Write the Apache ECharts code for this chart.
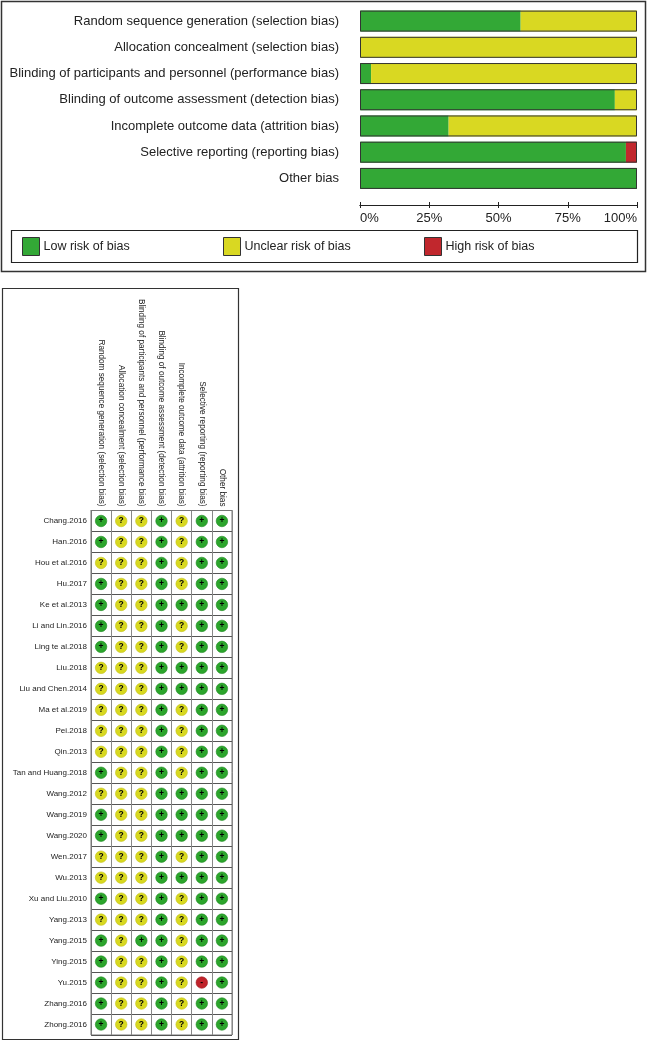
<!DOCTYPE html>
<html>
<head>
<meta charset="utf-8">
<script src="https://cdn.jsdelivr.net/npm/echarts/dist/echarts.min.js"></script>
<style>
  html, body { margin: 0; padding: 0; background: #fff; }
  #chart { width: 648px; height: 1043px; }
</style>
</head>
<body>
<div id="chart"></div>
<script>
// risk of bias domains
var domains = [
  'Random sequence generation (selection bias)',
  'Allocation concealment (selection bias)',
  'Blinding of participants and personnel (performance bias)',
  'Blinding of outcome assessment (detection bias)',
  'Incomplete outcome data (attrition bias)',
  'Selective reporting (reporting bias)',
  'Other bias'
];
// percentages for the graph
var lowPct = [58, 0, 4, 92, 32, 96, 100];
var unclearPct = [42, 100, 96, 8, 68, 0, 0];
var highPct = [0, 0, 0, 0, 0, 4, 0];

var studies = [
  'Chang.2016', 'Han.2016', 'Hou et al.2016', 'Hu.2017', 'Ke et al.2013',
  'Li and Lin.2016', 'Ling te al.2018', 'Liu.2018', 'Liu and Chen.2014',
  'Ma et al.2019', 'Pei.2018', 'Qin.2013', 'Tan and Huang.2018', 'Wang.2012',
  'Wang.2019', 'Wang.2020', 'Wen.2017', 'Wu.2013', 'Xu and Liu.2010',
  'Yang.2013', 'Yang.2015', 'Ying.2015', 'Yu.2015', 'Zhang.2016', 'Zhong.2016'
];
// one string per study, one char per domain: + low, ? unclear, - high
var judgements = [
  '+??+?++', '+??+?++', '???+?++', '+??+?++', '+??++++',
  '+??+?++', '+??+?++', '???++++', '???++++',
  '???+?++', '???+?++', '???+?++', '+??+?++', '???++++',
  '+??++++', '+??++++', '???+?++', '???++++', '+??+?++',
  '???+?++', '+?++?++', '+??+?++', '+??+?-+', '+??+?++', '+??+?++'
];

var GREEN = '#33a836', YELLOW = '#d9d822', RED = '#c1272d';
var FONT = 'Liberation Sans, Arial, sans-serif';

var dotColor = { '+': '#2ca52c', '?': '#d8d820', '-': '#c0232b' };
var dotEdge = { '+': '#1c8a20', '?': '#c2c21a', '-': '#9c1a20' };

var dots = [];
judgements.forEach(function (row, i) {
  for (var j = 0; j < row.length; j++) {
    var c = row.charAt(j);
    dots.push({
      value: [j, i, c],
      itemStyle: { color: dotColor[c], borderColor: dotEdge[c], borderWidth: 0.6, opacity: 1 }
    });
  }
});

var chart = echarts.init(document.getElementById('chart'));

var option = {
  backgroundColor: '#fff',
  animation: false,
  textStyle: { fontFamily: FONT },
  graphic: [
    { type: 'rect', shape: { x: 1.5, y: 1.5, width: 644, height: 270 },
      style: { fill: 'none', stroke: '#333', lineWidth: 1.5 }, z: 10 },
    { type: 'rect', shape: { x: 11.5, y: 230.5, width: 626, height: 32 },
      style: { fill: 'none', stroke: '#222', lineWidth: 1.2 }, z: 10 },
    { type: 'rect', shape: { x: 2.5, y: 288.5, width: 236, height: 751 },
      style: { fill: 'none', stroke: '#333', lineWidth: 1.2 }, z: 10 }
  ],
  legend: [
    { data: ['Low risk of bias'], left: 22, top: 237 },
    { data: ['Unclear risk of bias'], left: 223, top: 237 },
    { data: ['High risk of bias'], left: 424, top: 237 }
  ].map(function (l) {
    l.itemWidth = 17;
    l.itemHeight = 18;
    l.padding = 0;
    l.selectedMode = false;
    l.icon = 'rect';
    l.itemStyle = { borderColor: '#333', borderWidth: 1 };
    l.textStyle = { fontSize: 12.5, color: '#222', fontFamily: FONT, padding: [0, 0, 0, -1] };
    return l;
  }),
  grid: [
    { left: 360, right: 11, top: 8, height: 183.5 },
    { left: 91, top: 510.5, width: 141, height: 524.5, show: true, borderColor: '#777', borderWidth: 1 }
  ],
  xAxis: [
    {
      gridIndex: 0, type: 'value', min: 0, max: 100, interval: 25, position: 'bottom', offset: 13.5,
      axisLine: { show: true, lineStyle: { color: '#222', width: 1 } },
      axisTick: { show: true, length: 3, lineStyle: { color: '#222' } },
      axisLabel: { fontSize: 13, color: '#222', margin: 7, formatter: '{value}%',
        alignMinLabel: 'left', alignMaxLabel: 'right' },
      splitLine: { show: false }
    },
    {
      gridIndex: 0, type: 'value', min: 0, max: 100, interval: 25, position: 'bottom', offset: 13.5,
      axisLine: { show: true, lineStyle: { color: '#222', width: 1 } },
      axisTick: { show: true, inside: true, length: 3, lineStyle: { color: '#222' } },
      axisLabel: { show: false },
      splitLine: { show: false }
    },
    {
      gridIndex: 1, type: 'category', data: domains, position: 'top',
      axisLine: { show: true, lineStyle: { color: '#777' } },
      axisTick: { show: false },
      axisLabel: { rotate: 90, interval: 0, fontSize: 8.2, color: '#222', margin: 4 },
      splitLine: { show: true, lineStyle: { color: '#888', width: 1 } }
    }
  ],
  yAxis: [
    {
      gridIndex: 0, type: 'category', data: domains, inverse: true,
      axisLine: { show: false }, axisTick: { show: false },
      axisLabel: { fontSize: 13, color: '#222', margin: 21 }
    },
    {
      gridIndex: 1, type: 'category', data: studies, inverse: true,
      axisLine: { show: true, lineStyle: { color: '#777' } },
      axisTick: { show: false },
      axisLabel: { interval: 0, fontSize: 8, color: '#222', margin: 4 },
      splitLine: { show: true, lineStyle: { color: '#555', width: 1 } }
    }
  ],
  series: [
    { name: 'Low risk of bias', type: 'bar', stack: 'rob', xAxisIndex: 0, yAxisIndex: 0,
      barWidth: 21, itemStyle: { color: GREEN }, data: lowPct },
    { name: 'Unclear risk of bias', type: 'bar', stack: 'rob', xAxisIndex: 0, yAxisIndex: 0,
      barWidth: 21, itemStyle: { color: YELLOW }, data: unclearPct },
    { name: 'High risk of bias', type: 'bar', stack: 'rob', xAxisIndex: 0, yAxisIndex: 0,
      barWidth: 21, itemStyle: { color: RED }, data: highPct },
    { name: 'frame', type: 'bar', xAxisIndex: 0, yAxisIndex: 0, barWidth: 21, barGap: '-100%',
      silent: true, z: 5,
      itemStyle: { color: 'rgba(0,0,0,0)', borderColor: '#333', borderWidth: 1 },
      data: domains.map(function () { return 100; }) },
    {
      name: 'summary', type: 'scatter', xAxisIndex: 2, yAxisIndex: 1,
      symbol: 'circle', symbolSize: 11.5,
      itemStyle: { opacity: 1 },
      label: {
        show: true, position: 'inside', color: '#000', fontSize: 8.5, fontWeight: 'bold',
        textBorderWidth: 0,
        formatter: function (p) { return p.value[2]; }
      },
      data: dots
    }
  ]
};

chart.setOption(option);
</script>
</body>
</html>
